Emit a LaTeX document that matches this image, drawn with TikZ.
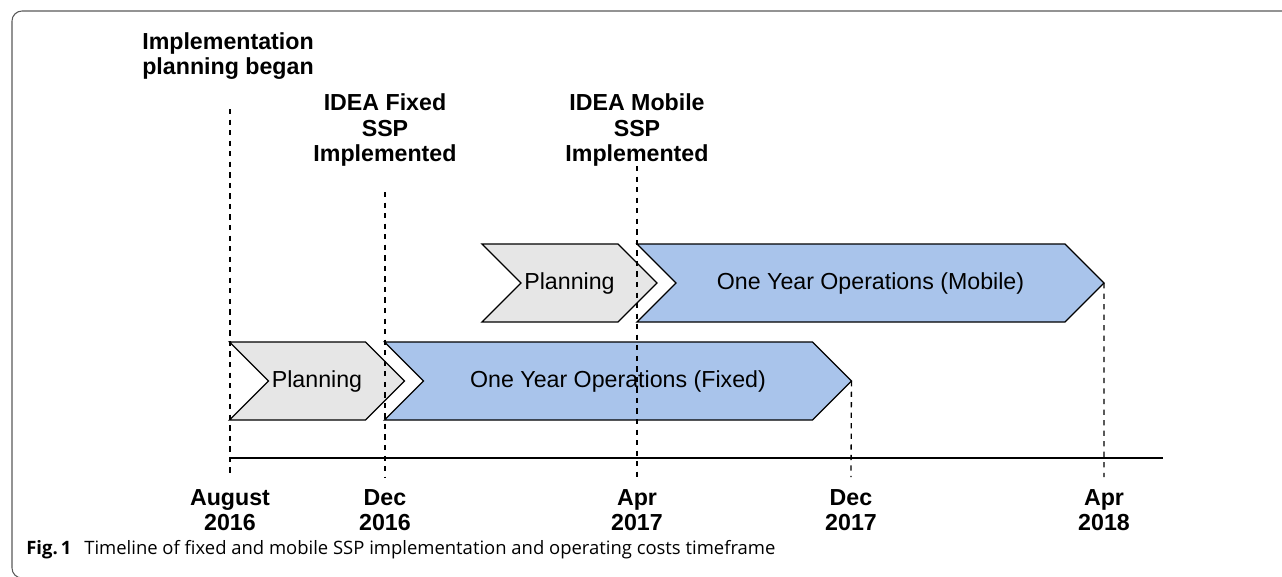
\documentclass[tikz,border=0pt]{standalone}
\usepackage{fontspec}
\setmainfont{Liberation Sans}
\newfontfamily\capfont{Open Sans}
\usetikzlibrary{shapes,shapes.symbols,calc,positioning}
\usepackage{xcolor}
\definecolor{mgrey}{HTML}{E6E6E6}
\definecolor{mblue}{HTML}{A9C4EB}
\tikzstyle{l1}=[line width=0.75pt]
\tikzstyle{phase}=[signal, signal from=west, signal to=east, draw=black, line width=0.75pt, minimum height=1.56cm, inner sep=0pt, outer sep=0pt, font=\fontsize{13.2}{15}\selectfont]
\tikzstyle{plan}=[phase, fill=mgrey, minimum width=3.5cm]
\tikzstyle{oper}=[phase, fill=mblue, minimum width=9.34cm]
\tikzstyle{event}=[align=center, inner sep=0pt, font=\fontsize{13.2}{14.3}\selectfont\bfseries]
\tikzstyle{guide}=[l1, dash pattern=on 3pt off 3pt]

\begin{document}
\begin{tikzpicture}[x=0.02cm, y=-0.02cm]

    \useasboundingbox (0,0) rectangle (1282,576);
    \draw[line width=0.6pt, black!65, rounded corners=0.2cm] (1282,11) -| (12,578) -- (40,578);

    % time axis, ticks at the lower end of each guide
    \foreach \n/\x in {0/230,1/385,2/637,3/851,4/1104}{
        \coordinate (t\n) at (\x,477);
    }
    \coordinate (a0) at (230,458); \coordinate (a1) at (1163,458);
    \draw[l1] (a0) -- (a1);

    % phases
    \node (p1) [plan] at (317,381) {Planning};
    \node (o1) [oper] at (618,381) {One Year Operations (Fixed)};
    \node (p2) [plan] at (569.5,283) {Planning};
    \node (o2) [oper] at (870.5,283) {One Year Operations (Mobile)};

    % events
    \node (e0) [event] at (228,56) {Implementation\\planning began};
    \node (e1) [event] at (385,130) {IDEA Fixed\\SSP\\Implemented};
    \node (e2) [event] at (637,130) {IDEA Mobile\\SSP\\Implemented};
    \coordinate (s0) at (230,109);
    \coordinate (s1) at (385,192);
    \coordinate (s2) at (637,166);
    \draw[guide] (s0) -- (t0);
    \draw[guide] (s1) -- (t1);
    \draw[guide] (s2) -- (t2);
    \draw[guide] (o1.east) -- (t3);
    \draw[guide] (o2.east) -- (t4);

    % dates
    \foreach \n/\m/\y in {0/August/2016,1/Dec/2016,2/Apr/2017,3/Dec/2017,4/Apr/2018}{
        \node (d\n) [event] at ($(t\n)+(0,33)$) {\m\\\y};
    }

    \node (cap) [anchor=base west, inner sep=0pt, font=\capfont\fontsize{10.5}{12}\selectfont] at (26,554)
        {\textbf{Fig.\,1}\hspace{0.7em}Timeline of fixed and mobile SSP implementation and operating costs timeframe};

\end{tikzpicture}
\end{document}
